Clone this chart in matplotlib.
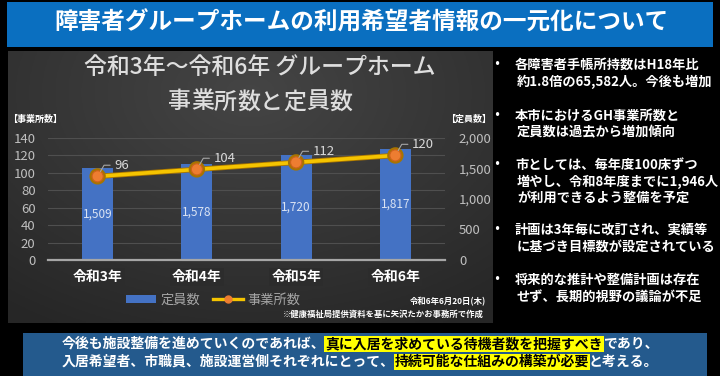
import numpy as np
import matplotlib.pyplot as plt
from matplotlib.patches import Rectangle, Patch
from matplotlib.lines import Line2D
import matplotlib.patheffects as pe

plt.rcParams['font.family'] = ['Noto Sans CJK JP', 'DejaVu Sans']

# データ
years = ['令和3年', '令和4年', '令和5年', '令和6年']
capacity = [1509, 1578, 1720, 1817]   # 定員数 (右軸)
offices = [96, 104, 112, 120]         # 事業所数 (左軸)
left_ticks = [0, 20, 40, 60, 80, 100, 120, 140]
right_ticks = [0, 500, 1000, 1500, 2000]

slide_title = '障害者グループホームの利用希望者情報の一元化について'
chart_title1 = '令和3年～令和6年 グループホーム'
chart_title2 = '事業所数と定員数'

bullets = [
    ['各障害者手帳所持数はH18年比', '約1.8倍の65,582人。今後も増加'],
    ['本市におけるGH事業所数と', '定員数は過去から増加傾向'],
    ['市としては、毎年度100床ずつ', '増やし、令和8年度までに1,946人', 'が利用できるよう整備を予定'],
    ['計画は3年毎に改訂され、実績等', 'に基づき目標数が設定されている'],
    ['将来的な推計や整備計画は存在', 'せず、長期的視野の議論が不足'],
]
bullet_top = [65, 116, 165, 230, 280]

summary = [
    [('今後も施設整備を進めていくのであれば、', False),
     ('真に入居を求めている待機者数を把握すべき', True),
     ('であり、', False)],
    [('入居希望者、市職員、施設運営側それぞれにとって、', False),
     ('持続可能な仕組みの構築が必要', True),
     ('と考える。', False)],
]

W, H = 720, 376
fig = plt.figure(figsize=(W / 100, H / 100), dpi=100, facecolor='black')

# 背景用 (ピクセル座標)
bg = fig.add_axes([0, 0, 1, 1])
bg.set_xlim(0, W)
bg.set_ylim(H, 0)
bg.axis('off')

# タイトルバー
bg.add_patch(Rectangle((7, 2), 706, 45, facecolor='#0a6fc0', edgecolor='none'))
bg.text(361, 23, slide_title, color='white', fontsize=17, fontweight='bold',
        ha='center', va='center')

# グラフパネル (グラデーション)
gx, gy = np.meshgrid(np.linspace(0, 1, 200), np.linspace(0, 1, 120))
r = np.sqrt(((gx - 0.5) * 1.2) ** 2 + ((gy - 0.15) * 1.0) ** 2)
shade = 0.27 - 0.12 * np.clip(r, 0, 1)
img = np.dstack([shade, shade, shade])
bg.imshow(img, extent=(8, 493, 323, 51), aspect='auto', zorder=0)

bg.text(260, 68, chart_title1, color='#dedede', fontsize=16.5, fontweight='medium',
        ha='center', va='center')
for i, ch in enumerate(chart_title2):
    bg.text(260 + (i - 3.5) * 23, 102, ch, color='#dedede', fontsize=16.5,
            fontweight='medium', ha='center', va='center')

bg.text(8, 119, '【事業所数】', color='white', fontsize=6.5, fontweight='bold',
        va='center', ha='left')
bg.text(446, 119, '【定員数】', color='white', fontsize=6.5, fontweight='bold',
        va='center', ha='left')

# グラフ本体
ax = fig.add_axes([48 / W, (H - 260) / H, 397 / W, 122 / H])
ax.patch.set_visible(False)
ax2 = ax.twinx()

x = np.arange(len(years))
ax.set_xlim(-0.5, len(years) - 0.5)
ax.set_ylim(0, right_ticks[-1])
for t in left_ticks[1:]:
    ax.axhline(t * right_ticks[-1] / left_ticks[-1], color='#4f4f4f', lw=0.8, zorder=0)
bars = ax.bar(x, capacity, width=0.31, color='#4472c4', zorder=2)
ax.bar_label(bars, labels=[f'{v:,}' for v in capacity], label_type='center',
             color='#dae3f3', fontsize=8.5)
ax.yaxis.tick_right()
ax.set_yticks(right_ticks)
ax.set_yticklabels([f'{v:,}' for v in right_ticks])
ax.tick_params(axis='y', length=0, pad=10, labelsize=9.5, labelcolor='#bfbfbf')
ax.set_xticks(x)
ax.set_xticklabels(years)
ax.tick_params(axis='x', length=0, pad=7, labelsize=10, labelcolor='white')
for lab in ax.get_xticklabels():
    lab.set_fontweight('bold')
    lab.set_bbox(dict(facecolor='#2c2c2c', edgecolor='none', pad=1.5))
for s in ['top', 'left', 'right']:
    ax.spines[s].set_visible(False)
ax.spines['bottom'].set_color('#a6a6a6')
ax.spines['bottom'].set_linewidth(1.6)

ax2.yaxis.tick_left()
ax2.set_ylim(0, left_ticks[-1])
ax2.set_yticks(left_ticks)
ax2.tick_params(axis='y', length=0, pad=9, labelsize=9.5, labelcolor='#bfbfbf')
for s in ax2.spines.values():
    s.set_visible(False)
ax2.plot(x, offices, color='#f5c400', lw=2.6, marker='o', ms=8,
         mfc='#ed7d31', mec='#d0621c', mew=0.8, zorder=3,
         path_effects=[pe.Stroke(linewidth=3.8, foreground='#a87400'), pe.Normal()])
for xi, v in zip(x, offices):
    ax2.annotate(str(v), (xi, v), xytext=(12, 8), textcoords='offset points',
                 color='#d9d9d9', fontsize=9.5, ha='left', va='center',
                 arrowprops=dict(arrowstyle='-', color='#a6a6a6', lw=0.8,
                                 relpos=(0, 0.5), shrinkA=1, shrinkB=4,
                                 connectionstyle='angle,angleA=0,angleB=60,rad=0'))

# 凡例
handles = [Patch(facecolor='#4472c4'),
           Line2D([], [], color='#f5c400', lw=2.4, marker='o', ms=5,
                  mfc='#ed7d31', mec='#ed7d31')]
fig.legend(handles, ['定員数', '事業所数'], loc='center',
           bbox_to_anchor=(213 / W, 1 - 300 / H), ncol=2, frameon=False,
           labelcolor='#a6a6a6', fontsize=9.5, handlelength=2.3,
           handleheight=0.5, columnspacing=1.0, handletextpad=0.3)

bg.text(486, 302, '令和6年6月20日(木)', color='white', fontsize=6, fontweight='bold',
        ha='right', va='center')
bg.text(484, 314, '※健康福祉局提供資料を基に矢沢たかお事務所で作成', color='white',
        fontsize=6, fontweight='bold', ha='right', va='center')

# 右側の箇条書き
for top, lines in zip(bullet_top, bullets):
    bg.text(497, top, '・', color='white', fontsize=9.5, fontweight='bold',
            ha='center', va='center')
    for j, line in enumerate(lines):
        bg.text(515 if j == 0 else 517, top + j * 16.5, line, color='white',
                fontsize=9.5, fontweight='bold', ha='left', va='center')

# 下部のまとめ
bg.add_patch(Rectangle((23, 333), 684, 43, facecolor='#245a8d', edgecolor='none'))
renderer = fig.canvas.get_renderer()
for row, (segs, yy) in enumerate(zip(summary, [344, 362])):
    texts = []
    for seg, hl in segs:
        t = bg.text(0, yy, seg, fontsize=10, fontweight='bold', va='center', ha='left',
                    color='black' if hl else 'white')
        if hl:
            t.set_bbox(dict(facecolor='#ffff00', edgecolor='none', pad=0.6))
        texts.append(t)
    widths = []
    for t in texts:
        bb = t.get_window_extent(renderer)
        widths.append(bb.width)
    xpos = 360 - sum(widths) / 2
    for t, w in zip(texts, widths):
        t.set_x(xpos)
        xpos += w

fig.savefig('out.png', dpi=100, facecolor='black')
